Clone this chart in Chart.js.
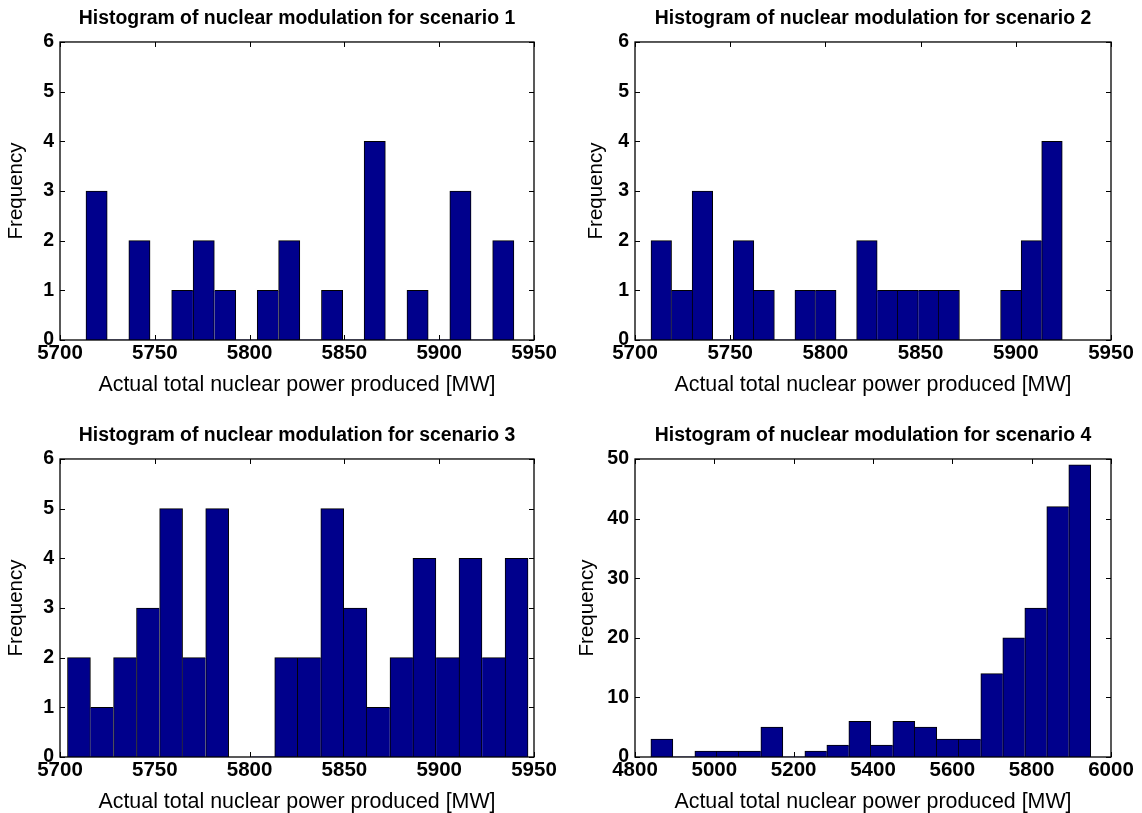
<!DOCTYPE html>
<html>
<head>
<meta charset="utf-8">
<script src="https://cdn.jsdelivr.net/npm/chart.js@4.4.0/dist/chart.umd.min.js"></script>
<style>
  body { margin: 0; background: #fff; width: 1142px; height: 813px; position: relative; overflow: hidden; }
  canvas { position: absolute; }
</style>
</head>
<body>
<canvas id="c1" width="571" height="406" style="left:0px;top:0px"></canvas>
<canvas id="c2" width="567" height="406" style="left:575px;top:0px"></canvas>
<canvas id="c3" width="571" height="406" style="left:0px;top:417px"></canvas>
<canvas id="c4" width="567" height="406" style="left:575px;top:417px"></canvas>
<script>
// histogram bin centres and counts
const bins1 = [5719.3, 5730.6, 5741.9, 5753.2, 5764.5, 5775.8, 5787.1, 5798.3, 5809.6, 5820.9,
               5832.2, 5843.5, 5854.8, 5866.0, 5877.3, 5888.6, 5899.9, 5911.2, 5922.5, 5933.8];
const counts1 = [3, 0, 2, 0, 1, 2, 1, 0, 1, 2, 0, 1, 0, 4, 0, 1, 0, 3, 0, 2];

const bins2 = [5713.8, 5724.6, 5735.4, 5746.2, 5757.0, 5767.8, 5778.6, 5789.4, 5800.2, 5811.0,
               5821.8, 5832.6, 5843.4, 5854.2, 5865.0, 5875.8, 5886.6, 5897.4, 5908.2, 5919.0];
const counts2 = [2, 1, 3, 0, 2, 1, 0, 1, 1, 0, 2, 1, 1, 1, 1, 0, 0, 1, 2, 4];

const bins3 = [5710.0, 5722.1, 5734.3, 5746.4, 5758.6, 5770.7, 5782.9, 5795.0, 5807.2, 5819.3,
               5831.5, 5843.6, 5855.8, 5867.9, 5880.1, 5892.2, 5904.4, 5916.5, 5928.7, 5940.8];
const counts3 = [2, 1, 2, 3, 5, 2, 5, 0, 0, 2, 2, 5, 3, 1, 2, 4, 2, 4, 2, 4];

const bins4 = [4867.7, 4923.2, 4978.6, 5034.1, 5089.5, 5145.0, 5200.4, 5255.9, 5311.3, 5366.8,
               5422.2, 5477.7, 5533.1, 5588.6, 5644.0, 5699.5, 5754.9, 5810.4, 5865.8, 5921.3];
const counts4 = [3, 0, 1, 1, 1, 5, 0, 1, 2, 6, 2, 6, 5, 3, 3, 14, 20, 25, 42, 49];

const xTicksA = [5700, 5750, 5800, 5850, 5900, 5950];
const xTicksB = [4800, 5000, 5200, 5400, 5600, 5800, 6000];
const yTicksA = [0, 1, 2, 3, 4, 5, 6];
const yTicksB = [0, 10, 20, 30, 40, 50];

const titles = [
  'Histogram of nuclear modulation for scenario 1',
  'Histogram of nuclear modulation for scenario 2',
  'Histogram of nuclear modulation for scenario 3',
  'Histogram of nuclear modulation for scenario 4'
];
const xLabel = 'Actual total nuclear power produced [MW]';
const yLabel = 'Frequency';

const FONT = '"Liberation Sans", Arial, Helvetica, sans-serif';
Chart.defaults.font.family = FONT;
Chart.defaults.color = '#000';

// box round the plot with inward ticks on all four sides
const frame = {
  id: 'frame',
  beforeDatasetsDraw(chart) {
    const { ctx, chartArea: a, scales: { x, y } } = chart;
    ctx.save();
    ctx.strokeStyle = '#000';
    ctx.lineWidth = 1;
    ctx.beginPath();
    x.ticks.forEach(t => {
      const px = Math.round(x.getPixelForValue(t.value)) + 0.5;
      ctx.moveTo(px, a.bottom); ctx.lineTo(px, a.bottom - 5);
      ctx.moveTo(px, a.top); ctx.lineTo(px, a.top + 5);
    });
    y.ticks.forEach(t => {
      const py = Math.round(y.getPixelForValue(t.value)) + 0.5;
      ctx.moveTo(a.left, py); ctx.lineTo(a.left + 5, py);
      ctx.moveTo(a.right, py); ctx.lineTo(a.right - 5, py);
    });
    ctx.stroke();
    ctx.restore();
  },
  afterDatasetsDraw(chart) {
    const { ctx, chartArea: a } = chart;
    ctx.save();
    ctx.strokeStyle = '#000';
    ctx.lineWidth = 1.3;
    ctx.strokeRect(a.left, a.top, a.right - a.left, a.bottom - a.top);
    ctx.restore();
  }
};

function makeHist(id, title, bins, counts, xTicks, yTicks, yTitlePad, padRight) {
  // shared edges get one line, drawn by the taller bar
  const edge = (ctx) => {
    const i = ctx.dataIndex;
    const c = counts[i];
    const prev = i > 0 ? counts[i - 1] : -1;
    const next = i < counts.length - 1 ? counts[i + 1] : -1;
    return { top: 1, bottom: 0, left: c > prev ? 1 : 0, right: c >= next ? 1 : 0 };
  };
  return new Chart(document.getElementById(id), {
    type: 'bar',
    data: {
      datasets: [{
        data: bins.map((b, i) => ({ x: b, y: counts[i] })),
        backgroundColor: 'rgb(0,0,140)',
        borderColor: '#000',
        borderWidth: edge,
        borderSkipped: false,
        barPercentage: 1,
        categoryPercentage: 1
      }]
    },
    options: {
      responsive: false,
      animation: false,
      layout: { padding: { left: 0, right: padRight, top: 0, bottom: 0 } },
      plugins: {
        legend: { display: false },
        tooltip: { enabled: false },
        title: {
          display: true,
          text: title,
          fullSize: false,
          font: { size: 19.4, weight: 'bold' },
          padding: { top: 7.4, bottom: 11.3 }
        }
      },
      scales: {
        x: {
          type: 'linear',
          offset: false,
          min: xTicks[0],
          max: xTicks[xTicks.length - 1],
          afterBuildTicks: s => { s.ticks = xTicks.map(v => ({ value: v })); },
          afterFit: s => { s.height = 66; },
          grid: { display: false, drawTicks: false, offset: false },
          border: { display: false },
          ticks: { padding: 1, maxRotation: 0, autoSkip: false, font: { size: 20.5, weight: 'bold' },
                   callback: v => String(v) },
          title: { display: true, text: xLabel, font: { size: 21.4 }, padding: { bottom: 7.8 } }
        },
        y: {
          min: yTicks[0],
          max: yTicks[yTicks.length - 1],
          afterBuildTicks: s => { s.ticks = yTicks.map(v => ({ value: v })); },
          afterFit: s => { s.width = 60; },
          grid: { display: false, drawTicks: false },
          border: { display: false },
          ticks: { padding: 6, font: { size: 19.5, weight: 'bold' }, callback: v => String(v) },
          title: { display: true, text: yLabel, font: { size: 20.5 }, padding: { top: yTitlePad } }
        }
      }
    },
    plugins: [frame]
  });
}

makeHist('c1', titles[0], bins1, counts1, xTicksA, yTicksA, 4, 37);
makeHist('c2', titles[1], bins2, counts2, xTicksA, yTicksA, 9, 31);
makeHist('c3', titles[2], bins3, counts3, xTicksA, yTicksA, 4, 37);
makeHist('c4', titles[3], bins4, counts4, xTicksB, yTicksB, 0, 31);
</script>
</body>
</html>
